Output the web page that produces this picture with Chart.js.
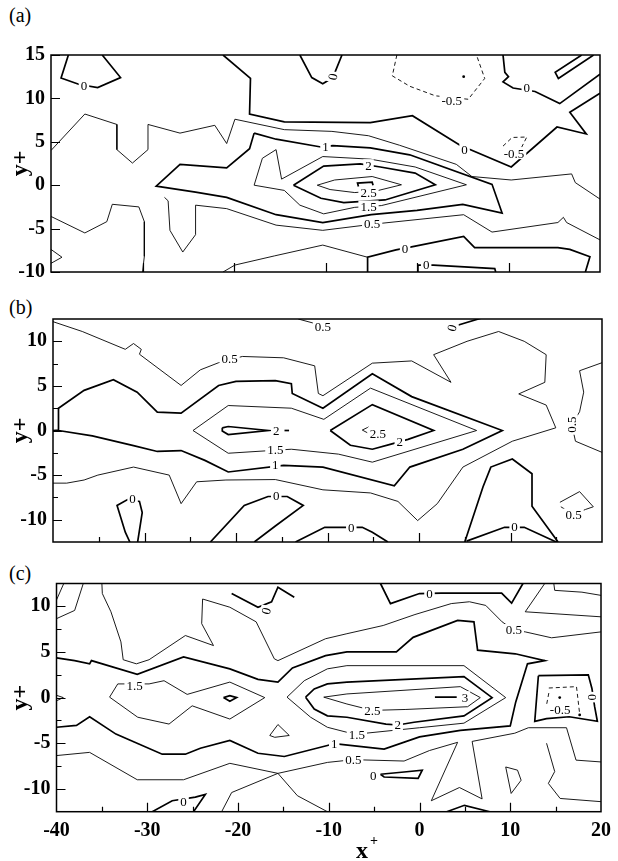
<!DOCTYPE html>
<html>
<head>
<meta charset="utf-8">
<script src="https://cdn.jsdelivr.net/npm/chart.js@4.4.1/dist/chart.umd.min.js"></script>
<style>
  body { margin: 0; background: #fff; width: 618px; height: 861px; position: relative; overflow: hidden; font-family: "Liberation Serif", "Times New Roman", serif; }
  canvas { position: absolute; left: 0; }
  .tag { position: absolute; left: 9px; font-size: 20px; line-height: 20px; }
</style>
</head>
<body>
<div class="tag" style="top:5px">(a)</div>
<div class="tag" style="top:297px">(b)</div>
<div class="tag" style="top:563px">(c)</div>
<canvas id="ca" width="618" height="290" style="top:0"></canvas>
<canvas id="cb" width="618" height="270" style="top:290px"></canvas>
<canvas id="cc" width="618" height="301" style="top:560px"></canvas>
<script>
// ---- axes ----
const xRange = [-40, 20];
const xMajor = [-30, -20, -10, 0, 10];
const xMinor = [-35, -25, -15, -5, 5, 15];
const xLabels = [-40, -30, -20, -10, 0, 10, 20];
const aYTicks = [-10, -5, 0, 5, 10, 15];
const bcYTicks = [-10, -5, 0, 5, 10];
const bcYMinor = [-7.5, -2.5, 2.5, 7.5];

// ---- panel (a): contour lines [x+, y+] ----
const aNeg05 = [
  [[-2.2,15],[-2.7,12.6],[-0.8,11.4],[2.0,10.3],[5.6,9.9],[7.4,12.3],[6.5,15]],
  [[9.4,4.5],[10.4,5.5],[12.0,5.55],[11.4,4.3]]
];
const aDots = [[5.1,12.5]];
const aLev0 = [
  [[-38.1,15],[-38.9,12.35],[-36.9,11.6],[-34.9,11.25],[-32.4,12.4],[-34.4,15]],
  [[-21.2,15],[-18.2,12.3],[-18.3,8.2],[-14.5,7.3],[-5.1,7.2],[-0.5,8.0],[4.7,4.6],[10.3,2.1],[15.3,6.7],[18.5,5.9],[16.7,8.4],[20,10.6]],
  [[-12.8,15],[-11.5,12.4],[-10.3,11.7],[-9.2,12.4],[-8.2,15]],
  [[9.4,15],[9.6,13.0],[10.0,12.5],[9.4,11.9],[10.5,11.2],[12.9,10.8],[15.6,9.4],[20,12.8]],
  [[18,15],[15.1,13.0],[15.45,12.3],[19.3,15]],
  [[-5.4,-10],[-5.4,-8.3],[-2.3,-7.45],[-0.6,-7.1],[5.1,-5.9],[6.3,-7.2],[15.4,-7.2],[16.7,-7.4],[18.9,-8.25],[18.4,-10]],
  [[0.1,-10],[0.1,-9.2],[1.8,-9.2],[8.5,-9.6],[8.6,-10]]
];
const aLev05 = [
  [[-40,4.0],[-36.3,8.2],[-32.8,7.0],[-32.8,4.1],[-31.1,2.55],[-29.4,4.1],[-29.4,7.0],[-25.9,6.0],[-22.1,6.9],[-20.8,4.8],[-19.9,7.6],[-14.5,6.4],[-9.3,6.2],[-5.3,5.7],[-1.9,4.6],[4.3,2.4],[6.0,1.0],[10.3,0.6],[16.9,1.3],[17.3,0.3],[20,-1.6]],
  [[-40,-3.6],[-36.3,-5.5],[-33.9,-4.2],[-33.3,-2.2],[-30.4,-2.5],[-29.8,-4.2],[-29.8,-8.2],[-30,-10]],
  [[-27.6,-1.4],[-27.2,-1.8],[-27.0,-5.2],[-25.6,-7.7],[-24.2,-5.7],[-24.2,-2.3],[-20.8,-2.7],[-15.4,-4.6],[-10.3,-5.2],[-4.9,-4.5],[5.1,-3.4],[8.2,-5.4],[15.4,-4.3],[16.0,-3.7],[16.35,-4.3],[20,-6.3]],
  [[-21.2,-10],[-19.9,-9.2],[-15.6,-8.15],[-10.3,-6.9],[-5.4,-8.3]],
  [[-40,-7.4],[-38.8,-8.3],[-40,-9.0]]
];
const aLev1 = [
  [[-17.8,6.0],[-15.4,5.3],[-10.5,4.4],[-9.2,4.55],[-5.1,4.3],[-0.8,3.5],[8.2,0.1],[9.3,-3.2],[5.0,-2.2],[0,-2.9],[-5,-3.4],[-10.3,-4.3],[-15.4,-3.4],[-20.8,-1.4],[-24.2,-0.8],[-28.5,-0.1],[-25.9,2.4],[-20.8,2.0],[-18.3,4.2],[-17.8,6.0]]
];
const aLev15 = [
  [[-17.8,0.0],[-16.9,3.1],[-15.4,4.1],[-14.8,0.7],[-10.3,3.3],[-5.1,3.0],[-0.2,2.1],[5.4,0.05],[-3.9,-2.35],[-6.8,-2.55],[-10.2,-3.3],[-12.8,-2.3],[-14.5,-0.6],[-17.8,0.0]]
];
const aLev2 = [
  [[-13.5,0.0],[-10.2,2.2],[-6.2,2.45],[-4.0,2.1],[-0.2,1.4],[2.0,0.05],[-3.5,-1.7],[-8.0,-2.0],[-10.5,-1.5],[-13.5,0.0]]
];
const aLev25 = [
  [[-10.9,0.0],[-9.0,0.6],[-4.9,1.0],[-1.7,0.05],[-4.4,-0.65],[-6.8,-0.85],[-9.5,-0.5],[-10.9,0.0]]
];
const aLev3 = [
  [[-6.4,-0.15],[-6.5,0.25],[-4.9,0.35],[-4.8,0.0]]
];
const aLabels = [
  ['0',-36.4,11.5,0], ['0',-9.2,12.5,-80], ['-0.5',3.8,9.7,0], ['0',12.0,11.2,0],
  ['-0.5',10.6,3.7,0], ['0',5.2,4.1,0], ['1',-10.0,4.45,0], ['2',-5.3,2.3,0],
  ['2.5',-5.3,-0.9,0], ['1.5',-5.3,-2.45,0], ['0.5',-4.9,-4.45,0], ['0',-1.3,-7.3,0], ['0',1.0,-9.1,0]
];

// ---- panel (b) ----
const bLev05 = [
  [[-40,12.2],[-36.8,11.1],[-32.1,9.1],[-31.2,9.75],[-30.35,9.1],[-30.55,8.55],[-26.0,5.05],[-23.9,6.8],[-21.9,7.6],[-19.3,8.3],[-14.8,8.15],[-11.4,7.25],[-11.0,4.15],[-10.5,3.9],[-5.1,7.55],[-0.8,7.8],[3.5,5.4],[1.6,8.5],[5.25,10.0],[8.7,11.1],[11.5,10.0],[13.9,8.5],[13.75,5.4],[10.9,4.1],[13.9,2.85],[14.95,0.3],[10.2,-1.2],[4.8,-4.1],[2.0,-8.2],[-0.15,-10.1],[-2.3,-7.95],[-5.3,-7.0],[-10.5,-6.65],[-15.7,-5.5],[-21.1,-5.55],[-24.3,-5.75],[-26.0,-8.2],[-27.3,-5.0],[-31.2,-4.1],[-35.1,-5.0],[-36.6,-5.55],[-38.5,-5.9],[-40,-5.9]],
  [[20,7.6],[17.55,6.7],[18.0,4.3],[17.55,2.1],[16.7,0.66],[17.1,-1.2],[20,-2.45]],
  [[-13.2,12.5],[-11.4,12.0],[-9.6,11.8]],
  [[15.4,-8.05],[17.55,-6.85],[19.05,-8.55],[18.2,-8.85],[16.9,-9.4],[15.5,-8.55]]
];
const bLev0 = [
  [[-31.6,-12.5],[-32.1,-11.4],[-33.0,-8.4],[-31.85,-7.75],[-30.55,-7.95],[-30.25,-9.2],[-30.75,-12.5]],
  [[-22.8,-12.5],[-19.1,-8.4],[-16.5,-7.4],[-14.4,-7.4],[-12.65,-8.4],[-15.7,-10.7],[-18.0,-12.5]],
  [[-13.5,-12.5],[-10.3,-10.85],[-6.2,-10.85],[-5.1,-11.4],[-3.4,-12.5]],
  [[5.0,-12.5],[7.0,-6.3],[7.85,-4.1],[10.2,-3.2],[12.35,-4.85],[12.35,-8.5],[15.2,-12.5]],
  [[5.2,-12.4],[9.35,-10.85],[11.5,-10.85],[15.0,-12.5]],
  [[3.0,11.3],[4.4,11.85],[6.8,12.6]]
];
const bLev1 = [
  [[-40,0.0],[-39.4,0.05],[-39.4,2.5],[-36.6,4.5],[-33.4,5.7],[-30.8,4.3],[-28.6,2.05],[-26.0,1.95],[-21.9,5.05],[-20.0,5.5],[-15.7,5.6],[-13.95,5.25],[-13.85,4.15],[-10.5,2.5],[-5.1,6.35],[-0.8,3.8],[9.1,0.0],[4.8,-2.1],[-1.0,-4.1],[-2.7,-6.2],[-10.5,-4.1],[-14.8,-3.9],[-20.85,-4.65],[-23.4,-3.35],[-26.0,-2.25],[-28.6,-2.35],[-31.2,-1.7],[-35.7,-0.6],[-39.4,0.0]]
];
const bLev15 = [
  [[-24.7,0.0],[-20.85,2.8],[-13.95,2.5],[-10.4,1.25],[-5.3,4.75],[6.3,0.0],[-5.1,-3.55],[-8.8,-2.65],[-13.95,-2.1],[-20.85,-2.55],[-24.7,0.0]]
];
const bLev2 = [
  [[-21.5,0.3],[-20.85,0.45],[-16.5,0.0],[-20.85,-0.45],[-21.5,-0.05],[-21.5,0.3]],
  [[-14.7,0.0],[-14.2,0.0]],
  [[-9.7,0.0],[-5.1,2.9],[1.6,0.0],[-1.2,-1.0],[-3.15,-1.55],[-5.1,-2.1],[-7.5,-1.65],[-9.7,0.0]]
];
const bLev25 = [
  [[-5.5,0.4],[-6.2,0.05],[-5.65,-0.25]]
];
const bLabels = [
  ['0.5',-10.5,11.65,0], ['0',3.6,11.5,-75], ['0.5',-20.7,8.1,0], ['2',-15.6,-0.05,0],
  ['2.5',-4.5,-0.3,0], ['2',-2.1,-1.25,0], ['1.5',-15.7,-2.1,0], ['1',-15.7,-3.85,0],
  ['0.5',16.7,0.66,-90], ['0',-31.3,-7.6,0], ['0',-15.6,-7.25,0], ['0',-7.4,-10.85,0],
  ['0',10.45,-10.75,0], ['0.5',16.9,-9.4,0]
];

// ---- panel (c) ----
const cNeg05 = [
  [[14.25,1.05],[17.3,1.2],[17.65,-1.8]],
  [[14.25,0.5],[14.0,-0.8]]
];
const cDots = [[15.45,0.0],[17.65,-1.9]];
const cLev05 = [
  [[-40,10.7],[-39.2,12.5]],
  [[-40,8.65],[-38.0,9.55],[-37.05,12.5]],
  [[-35.0,12.5],[-34.95,11.4],[-34.0,9.4],[-32.9,6.1],[-32.65,4.15],[-31.2,3.7],[-29.8,4.15],[-25.8,6.8],[-22.7,5.7],[-24.0,8.1],[-23.9,10.8],[-20.9,9.9],[-18.0,8.3],[-16.0,4.25],[-15.6,4.05],[-10.35,6.45],[-8.0,7.0],[-4.0,7.9],[-0.5,9.1],[3.5,10.3],[5.5,10.5],[7.3,10.1],[9.1,8.3],[10.4,7.4],[11.65,7.2],[14.55,6.55],[20,7.2]],
  [[13.8,12.5],[11.65,9.4],[20,8.85]],
  [[14.8,12.5],[14.9,11.75],[17.9,11.55],[20,11.2]],
  [[-40,0.25],[-39.25,0.0],[-40,-0.35]],
  [[-40,-6.35],[-36.35,-6.0],[-31.1,-9.0],[-26.0,-9.0],[-20.9,-7.2],[-15.6,-8.3],[-10.15,-7.1],[-7.3,-6.8],[-1.7,-6.95],[1.1,-5.8],[4.2,-4.9],[1.3,-11.3],[4.4,-9.85],[6.9,-11.1],[5.8,-4.8],[10.5,-3.9],[12.0,-3.3],[16.2,-3.3],[17.25,-6.85],[20,-7.05]],
  [[-21.8,-12.5],[-20.7,-10.4],[-15.6,-8.3],[-13.45,-10.75],[-10.15,-12.5]],
  [[-16.5,-4.15],[-15.6,-2.95],[-14.35,-4.15],[-15.95,-4.35],[-16.5,-4.15]],
  [[9.5,-7.6],[10.8,-7.95],[11.2,-9.05],[10.1,-10.5],[9.5,-7.6]],
  [[14.0,-5.0],[14.9,-8.1],[14.2,-9.4],[15.5,-11.05],[20,-11.4]]
];
const cLev0 = [
  [[-20.7,11.4],[-17.8,9.9],[-16.3,10.5],[-15.6,12.1],[-13.8,11.0]],
  [[-4.3,12.5],[-3.2,10.3],[0,11.4],[2.4,11.45],[9.05,11.45],[10.15,10.35],[11.4,12.5]],
  [[-29.45,-12.5],[-27.25,-11.3],[-24.7,-10.9],[-23.6,-10.6],[-24.9,-12.5]],
  [[-4.3,-8.4],[-1.7,-8.15],[0.3,-7.95],[-0.15,-8.85],[-3.9,-8.7],[-4.3,-8.4]],
  [[3.0,-12.5],[4.95,-11.8],[7.75,-12.5]],
  [[13.1,2.4],[18.6,2.5],[19.0,1.0],[19.3,-1.0],[19.6,-2.6],[16.5,-2.1],[14.0,-2.3],[12.7,-2.6],[13.1,2.4]]
];
const cLev1 = [
  [[-40,4.35],[-38.0,4.05],[-36.35,3.7],[-36.15,4.05],[-31.1,2.55],[-26.0,4.45],[-20.9,3.15],[-17.8,2.0],[-15.6,1.7],[-14.0,3.25],[-10.35,4.6],[-8.0,5.0],[-2.55,5.0],[-0.7,6.6],[4.2,8.45],[6.0,8.3],[6.4,5.2],[10.55,4.8],[13.8,4.05],[11.9,3.7],[10.6,-0.5],[10.0,-3.1],[4.5,-3.6],[0,-4.3],[-3.9,-5.65],[-9.4,-5.05],[-10.15,-5.25],[-14.9,-6.45],[-17.8,-6.1],[-20.9,-4.7],[-24.15,-5.55],[-25.8,-6.2],[-28.35,-6.2],[-33.45,-4.0],[-36.35,-2.1],[-37.8,-3.05],[-40,-3.25]]
];
const cLev15 = [
  [[-34.15,0.05],[-33.25,1.5],[-29.8,1.5],[-28.15,1.85],[-25.6,0.35],[-20.9,1.7],[-17.05,0.0],[-20.9,-2.35],[-25.05,-0.9],[-27.6,-2.9],[-31.05,-2.15],[-34.15,0.05]],
  [[-14.6,0.05],[-12.7,1.85],[-10.15,3.15],[-8.0,3.5],[4.9,3.5],[9.5,0.0],[4.9,-2.8],[0,-3.3],[-6.9,-4.0],[-8.0,-3.8],[-10.15,-3.25],[-12.0,-2.15],[-14.6,0.05]]
];
const cLev2 = [
  [[-21.6,0.0],[-20.9,0.22],[-20.15,0.0],[-20.9,-0.4],[-21.6,0.0]],
  [[-12.55,0.05],[-11.6,0.95],[-10.15,1.5],[-8.0,1.7],[4.9,2.3],[8.0,0.0],[4.9,-2.0],[-0.6,-2.7],[-2.4,-3.0],[-3.7,-2.9],[-8.0,-2.15],[-10.15,-2.0],[-11.6,-1.25],[-12.55,0.05]]
];
const cLev25 = [
  [[-10.55,0.05],[-8.0,0.4],[4.5,1.2],[6.7,0.0],[5.3,-1.0],[-1.5,-1.3],[-5.2,-1.4],[-8.0,-0.7],[-10.55,0.05]]
];
const cLev3 = [
  [[1.7,0.05],[4.1,0.05]]
];
const cLabels = [
  ['0',-16.9,9.5,-75], ['0',1.1,11.45,0], ['0.5',10.4,7.4,0], ['1.5',-31.4,1.3,0],
  ['3',5.0,0.05,0], ['2.5',-5.2,-1.45,0], ['2',-2.4,-3.0,0], ['1.5',-6.9,-4.05,0],
  ['1',-9.4,-5.05,0], ['0.5',-7.3,-6.8,0], ['0',-5.1,-8.5,0], ['0',-26.0,-11.35,0],
  ['-0.5',15.5,-1.3,0], ['0',19.0,0.05,-90]
];

const THICK = 1.7, THIN = 0.9;
const SERIF = '"Liberation Serif", "Times New Roman", serif';

function lineSets(lines, width, dash) {
  return lines.map(l => ({
    data: l.map(p => ({ x: p[0], y: p[1] })),
    showLine: true, borderColor: '#000', borderWidth: width,
    borderDash: dash || [], pointRadius: 0, tension: 0
  }));
}
function dotSet(pts) {
  return { data: pts.map(p => ({ x: p[0], y: p[1] })), showLine: false,
    pointRadius: 1.4, pointBackgroundColor: '#000', pointBorderWidth: 0 };
}

// labels, frame and inward ticks
const decor = {
  id: 'decor',
  afterDatasetsDraw(chart, args, o) {
    const { ctx, chartArea: a, scales: { x, y } } = chart;
    ctx.save();
    ctx.font = '13px ' + SERIF;
    ctx.textAlign = 'center';
    ctx.textBaseline = 'middle';
    o.labels.forEach(([t, vx, vy, rot]) => {
      ctx.save();
      ctx.translate(x.getPixelForValue(vx), y.getPixelForValue(vy));
      ctx.rotate(rot * Math.PI / 180);
      const w = ctx.measureText(t).width;
      ctx.fillStyle = '#fff';
      ctx.fillRect(-w / 2 - 2, -6, w + 4, 12);
      ctx.fillStyle = '#000';
      ctx.fillText(t, 0, 1);
      ctx.restore();
    });
    ctx.strokeStyle = '#000';
    ctx.lineWidth = 1.5;
    ctx.strokeRect(a.left, a.top, a.right - a.left, a.bottom - a.top);
    ctx.lineWidth = 1.2;
    ctx.beginPath();
    const xt = (vals, len) => vals.forEach(v => {
      const p = Math.round(x.getPixelForValue(v)) + 0.5;
      ctx.moveTo(p, a.bottom); ctx.lineTo(p, a.bottom - len);
    });
    const yt = (vals, len) => vals.forEach(v => {
      const p = Math.round(y.getPixelForValue(v)) + 0.5;
      ctx.moveTo(a.left, p); ctx.lineTo(a.left + len, p);
    });
    xt(o.xMajor, 9); xt(o.xMinor || [], 5);
    yt(o.yMajor, 9); yt(o.yMinor || [], 5);
    ctx.stroke();
    if (o.xTitle) {
      ctx.textAlign = 'center';
      ctx.textBaseline = 'alphabetic';
      ctx.font = 'bold 24px ' + SERIF;
      ctx.fillText('x', 362, a.bottom + 46);
      ctx.font = 'bold 14px ' + SERIF;
      ctx.fillText('+', 374, a.bottom + 33);
    }
    ctx.restore();
  }
};

const tickFont = { family: SERIF, weight: 'bold', size: 20 };

function makeChart(id, cfg) {
  const yAxis = {
    type: 'linear', min: cfg.yMin, max: cfg.yMax,
    afterFit: s => { s.width = cfg.yWidth; },
    afterBuildTicks: s => { s.ticks = cfg.yTicks.map(v => ({ value: v })); },
    ticks: { font: tickFont, color: '#000', padding: 6 },
    grid: { display: false, drawTicks: false },
    border: { display: false },
    title: { display: true, text: 'y+', color: '#000', padding: { top: 6, bottom: 0 },
      font: { family: SERIF, weight: 'bold', size: 24 } }
  };
  const xAxis = {
    type: 'linear', min: xRange[0], max: xRange[1], display: !!cfg.xLabels,
    afterFit: s => { s.height = cfg.xLabels ? 30 : 0; },
    afterBuildTicks: s => { s.ticks = (cfg.xLabels || xMajor).map(v => ({ value: v })); },
    ticks: { font: tickFont, color: '#000', padding: 7, maxRotation: 0 },
    grid: { display: false, drawTicks: false },
    border: { display: false }
  };
  return new Chart(document.getElementById(id), {
    type: 'scatter',
    data: { datasets: cfg.datasets },
    options: {
      responsive: false, animation: false, devicePixelRatio: 1,
      layout: { padding: cfg.padding },
      scales: { x: xAxis, y: yAxis },
      plugins: {
        legend: { display: false }, tooltip: { enabled: false },
        decor: { labels: cfg.labels, xMajor: xMajor, xMinor: cfg.xMinor,
          yMajor: cfg.yTicks, yMinor: cfg.yMinor, xTitle: !!cfg.xLabels }
      }
    },
    plugins: [decor]
  });
}

makeChart('ca', {
  yMin: -10, yMax: 15, yTicks: aYTicks, yWidth: 51,
  padding: { left: 0, top: 55, right: 18, bottom: 6 },
  labels: aLabels,
  datasets: [].concat(
    lineSets(aNeg05, THIN, [4, 3]), lineSets(aLev0, THICK), lineSets(aLev05, THIN),
    lineSets(aLev1, THICK), lineSets(aLev15, THIN), lineSets(aLev2, THICK),
    lineSets(aLev25, THIN), lineSets(aLev3, THICK), [dotSet(aDots)])
});

makeChart('cb', {
  yMin: -12.5, yMax: 12.5, yTicks: bcYTicks, yMinor: bcYMinor, yWidth: 53,
  xMinor: xMinor,
  padding: { left: 0, top: 29, right: 16, bottom: 11 },
  labels: bLabels,
  datasets: [].concat(
    lineSets(bLev05, THIN), lineSets(bLev0, THICK), lineSets(bLev1, THICK),
    lineSets(bLev15, THIN), lineSets(bLev2, THICK), lineSets(bLev25, THIN))
});

makeChart('cc', {
  yMin: -12.5, yMax: 12.5, yTicks: bcYTicks, yMinor: bcYMinor, yWidth: 56.5,
  xMinor: xMinor, xLabels: xLabels,
  padding: { left: 0, top: 23.5, right: 12, bottom: 19.3 },
  labels: cLabels,
  datasets: [].concat(
    lineSets(cNeg05, THIN, [4, 3]), lineSets(cLev05, THIN), lineSets(cLev0, THICK),
    lineSets(cLev1, THICK), lineSets(cLev15, THIN), lineSets(cLev2, THICK),
    lineSets(cLev25, THIN), lineSets(cLev3, THICK), [dotSet(cDots)])
});
</script>
</body>
</html>
